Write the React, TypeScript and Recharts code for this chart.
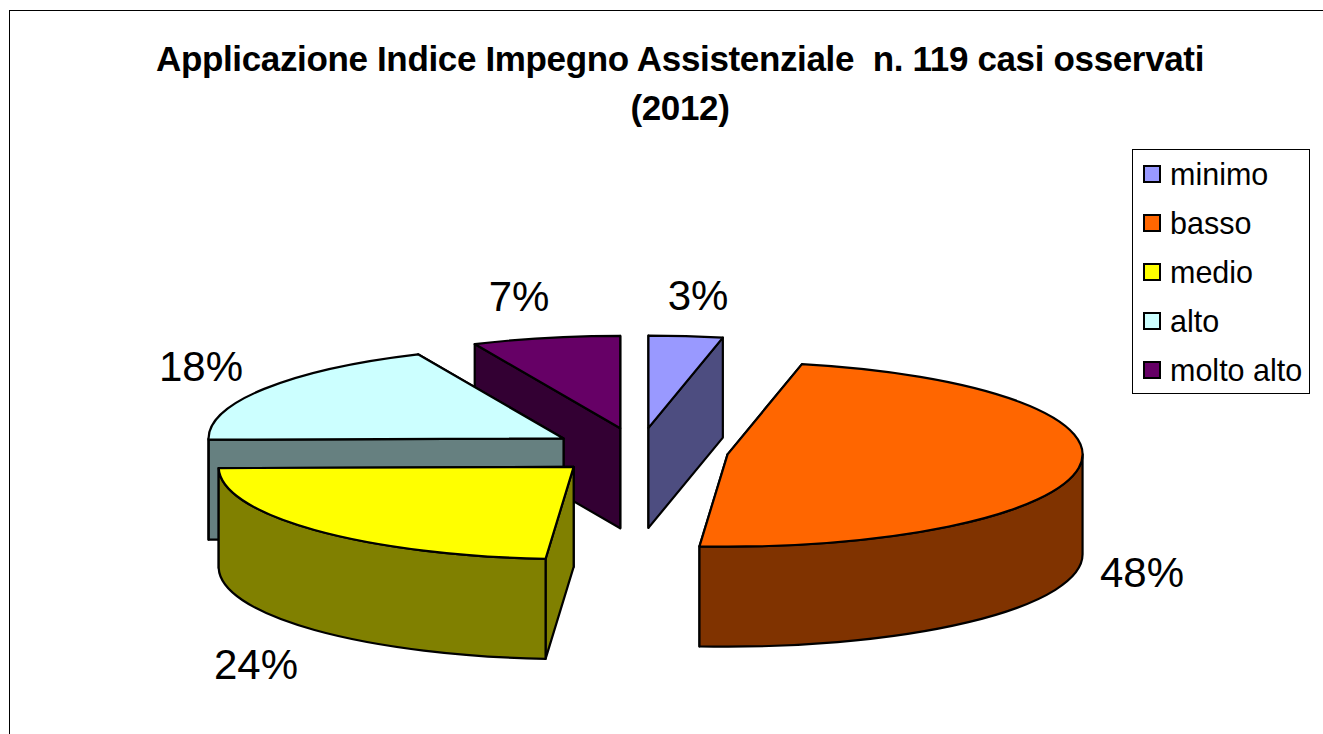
import React from "react";
import { PieChart, Pie, Legend } from "recharts";

const TITLE_LINES = ["Applicazione Indice Impegno Assistenziale  n. 119 casi osservati", "(2012)"];
const CATEGORIES = ["minimo", "basso", "medio", "alto", "molto alto"];
const CASES = [4, 57, 28, 22, 8];
const COLORS = ["#9999FF", "#FF6600", "#FFFF00", "#CCFFFF", "#660066"];
const SHADES = ["#4D4D80", "#803300", "#808000", "#668080", "#330033"];

// back to front, the slices overlap each other: alto sits over molto alto, medio over alto
const DRAW_ORDER = [4, 3, 0, 1, 2];

const TOTAL = CASES.reduce((a, b) => a + b, 0);
const casesBefore = (i: number) => CASES.slice(0, i).reduce((a, b) => a + b, 0);

const SQUASH = 0.26;
const DEPTH = 100;
const EXPLODE = 89.5;

// where each percent label sits, relative to the chart
const LABEL_SPOTS: Record<string, [number, number]> = {
  minimo: [698, 310],
  basso: [1142, 587],
  medio: [256, 679],
  alto: [201, 381],
  "molto alto": [519, 311],
};

function Slice3D(props: any) {
  const { cx, cy, outerRadius: rx, startAngle, endAngle, midAngle, fill, shade } = props;
  const ry = rx * SQUASH;
  const rad = (d: number) => (d * Math.PI) / 180;
  const mid = midAngle ?? (startAngle + endAngle) / 2;
  const ox = cx + EXPLODE * Math.cos(rad(mid));
  const oy = cy - EXPLODE * SQUASH * Math.sin(rad(mid));
  const pt = (d: number, dz = 0) =>
    `${ox + rx * Math.cos(rad(d))} ${oy - ry * Math.sin(rad(d)) + dz}`;
  const side = (d: number) =>
    `M${ox} ${oy}L${pt(d)}L${pt(d, DEPTH)}L${ox} ${oy + DEPTH}Z`;

  // the radial wall further back gets painted first
  const walls = [startAngle, endAngle].sort((p, q) => Math.sin(rad(q)) - Math.sin(rad(p)));

  // front rim: only the part of the arc on the lower half of the ellipse
  const norm = (d: number) => ((d % 360) + 360) % 360;
  const a = norm(startAngle);
  const b = a + (endAngle - startAngle); // goes clockwise, so b < a
  const rims: string[] = [];
  for (const [lo, hi] of [[-180, 0], [180, 360], [-540, -360]]) {
    const from = Math.min(a, hi);
    const to = Math.max(b, lo);
    if (from > to) {
      rims.push(
        `M${pt(from)}A${rx} ${ry} 0 0 1 ${pt(to)}L${pt(to, DEPTH)}A${rx} ${ry} 0 0 0 ${pt(from, DEPTH)}Z`
      );
    }
  }
  const large = Math.abs(endAngle - startAngle) > 180 ? 1 : 0;
  const stroke = { stroke: "#000", strokeWidth: 2.2, strokeLinejoin: "round" as const };

  return (
    <g>
      {walls.map((d) => (
        <path key={d} d={side(d)} fill={shade} {...stroke} />
      ))}
      {rims.map((d) => (
        <path key={d} d={d} fill={shade} {...stroke} />
      ))}
      <path
        d={`M${ox} ${oy}L${pt(startAngle)}A${rx} ${ry} 0 ${large} 1 ${pt(endAngle)}Z`}
        fill={fill}
        {...stroke}
      />
    </g>
  );
}

function PercentLabel({ name, value }: any) {
  const [x, y] = LABEL_SPOTS[name];
  return (
    <text x={x} y={y} textAnchor="middle" fontSize={42} fill="#000">
      {Math.round((value / TOTAL) * 100)}%
    </text>
  );
}

function LegendBox() {
  return (
    <div
      style={{
        position: "absolute",
        left: 1132,
        top: 149,
        width: 176,
        height: 243,
        border: "1px solid #000",
        background: "#fff",
      }}
    >
      {CATEGORIES.map((c, i) => (
        <div
          key={c}
          style={{
            position: "absolute",
            left: 10,
            top: 4 + i * 49,
            height: 40,
            display: "flex",
            alignItems: "center",
            fontSize: 30.5,
            color: "#000",
            whiteSpace: "nowrap",
          }}
        >
          <span
            style={{
              width: 14,
              height: 14,
              marginRight: 9,
              border: "2px solid #000",
              background: COLORS[i],
              display: "inline-block",
            }}
          />
          {c}
        </div>
      ))}
    </div>
  );
}

export default function App() {
  return (
    <div
      style={{
        position: "absolute",
        left: 0,
        top: 0,
        width: 1323,
        height: 734,
        overflow: "hidden",
        background: "#fff",
        fontFamily: "'Liberation Sans', Arial, sans-serif",
      }}
    >
      <div
        style={{
          position: "absolute",
          left: 9,
          top: 10,
          width: 1400,
          height: 800,
          border: "1.5px solid #000",
        }}
      />
      <PieChart
        width={1323}
        height={734}
        margin={{ top: 0, right: 0, bottom: 0, left: 0 }}
        style={{ position: "absolute", left: 0, top: 0 }}
      >
        {TITLE_LINES.map((line, i) => (
          <text
            key={line}
            x={680}
            y={71 + i * 49}
            textAnchor="middle"
            fontSize={35}
            fontWeight="bold"
            letterSpacing={-0.35}
            fill="#000"
            style={{ whiteSpace: "pre" }}
          >
            {line}
          </text>
        ))}
        {DRAW_ORDER.map((i) => {
          const start = 90 - (casesBefore(i) / TOTAL) * 360;
          return (
            <Pie
              key={CATEGORIES[i]}
              data={[{ name: CATEGORIES[i], value: CASES[i], fill: COLORS[i], shade: SHADES[i] }]}
              dataKey="value"
              nameKey="name"
              cx={639}
              cy={451}
              outerRadius={355}
              startAngle={start}
              endAngle={start - (CASES[i] / TOTAL) * 360}
              stroke="none"
              isAnimationActive={false}
              labelLine={false}
              label={PercentLabel}
              shape={Slice3D}
              inactiveShape={Slice3D}
              activeShape={Slice3D}
              rootTabIndex={-1}
            />
          );
        })}
        <Legend content={() => <LegendBox />} wrapperStyle={{ position: "absolute", left: 0, top: 0, width: 0, height: 0 }} />
      </PieChart>
    </div>
  );
}
